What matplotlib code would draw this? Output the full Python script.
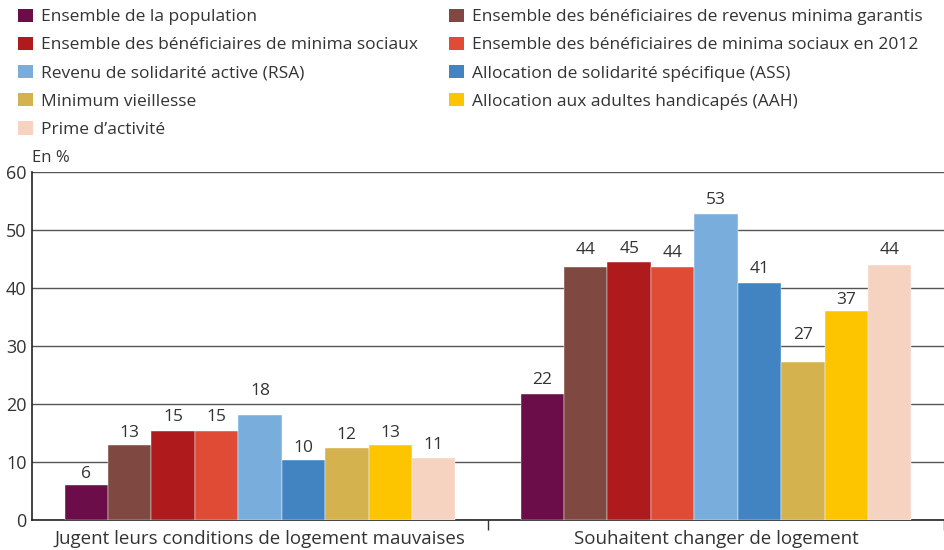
import matplotlib
matplotlib.use("Agg")
import matplotlib.pyplot as plt
from matplotlib.patches import Patch
import numpy as np

plt.rcParams['font.family'] = ['Open Sans', 'DejaVu Sans']

categories = ["Jugent leurs conditions de logement mauvaises", "Souhaitent changer de logement"]
series = [
    "Ensemble de la population",
    "Ensemble des bénéficiaires de revenus minima garantis",
    "Ensemble des bénéficiaires de minima sociaux",
    "Ensemble des bénéficiaires de minima sociaux en 2012",
    "Revenu de solidarité active (RSA)",
    "Allocation de solidarité spécifique (ASS)",
    "Minimum vieillesse",
    "Allocation aux adultes handicapés (AAH)",
    "Prime d\u2019activité",
]
colors = ["#6B0D48", "#7F4840", "#AF1B1C", "#E04B35", "#79AEDC",
          "#4283C2", "#D4B24D", "#FDC500", "#F6D2C0"]
# values per series: [group1, group2]
values = [
    [6.0, 21.8],
    [13.0, 43.6],
    [15.3, 44.5],
    [15.3, 43.6],
    [18.1, 52.8],
    [10.3, 40.8],
    [12.5, 27.3],
    [13.0, 36.1],
    [10.7, 44.0],
]
labels = [
    [6, 22],
    [13, 44],
    [15, 45],
    [15, 44],
    [18, 53],
    [10, 41],
    [12, 27],
    [13, 37],
    [11, 44],
]
yticks = [0, 10, 20, 30, 40, 50, 60]

# label offsets above bar tops (points), as placed in the original
label_offsets = [
    [8.0, 10.0],
    [8.5, 12.0],
    [10.0, 9.5],
    [10.0, 10.0],
    [17.5, 10.0],
    [9.0, 10.0],
    [9.0, 19.5],
    [8.5, 8.0],
    [9.0, 10.5],
]

fig = plt.figure(figsize=(9.45, 5.5), dpi=100)
ax = fig.add_axes([32/945, 30/550, 912/945, 348/550])

n = len(series)
group_w = 0.857
bw = group_w / n
x = np.arange(len(categories))
txt = "#333333"
for i in range(n):
    pos = x - group_w/2 + bw*(i + 0.5)
    ax.bar(pos, values[i], width=bw, color=colors[i], edgecolor='white',
           linewidth=0.3, zorder=3)
    for p, v, l, off in zip(pos, values[i], labels[i], label_offsets[i]):
        ax.annotate(str(l), xy=(p, v), xytext=(0, off), textcoords='offset points',
                    ha='center', va='center', fontsize=12.5, color=txt, zorder=4)

ax.set_xlim(-0.5, 1.5)
ax.set_ylim(0, 60)
ax.set_yticks(yticks)
ax.set_yticklabels([str(t) for t in yticks], fontsize=13, color=txt)
ax.yaxis.grid(True, color='#555555', linewidth=1.0, zorder=0)
ax.set_axisbelow(True)
ax.tick_params(axis='y', length=0, pad=4)
ax.set_xticks(x)
ax.set_xticklabels(categories, fontsize=13.5, color=txt)
ax.set_xticks([0.5, 1.5], minor=True)
ax.tick_params(axis='x', which='major', length=0, pad=7)
ax.tick_params(axis='x', which='minor', length=7, width=1, color='#333333')
for s in ['top', 'right']:
    ax.spines[s].set_visible(False)
ax.spines['left'].set_color('#222222')
ax.spines['bottom'].set_color('#222222')
ax.spines['left'].set_linewidth(1.2)
ax.spines['bottom'].set_linewidth(1.2)

fig.text(32/945, 1 - 158/550, "En %", fontsize=12, color=txt, ha='left', va='center')

handles = [Patch(facecolor=c, edgecolor='none') for c in colors]
order = [0, 2, 4, 6, 8, 1, 3, 5, 7]
leg = fig.legend([handles[i] for i in order], [series[i] for i in order],
                 ncol=2, loc='upper left', bbox_to_anchor=(18/945, 1 - 8.5/550),
                 frameon=False, fontsize=12.5, handlelength=0.85, handleheight=0.85,
                 handletextpad=0.5, columnspacing=1.75, labelspacing=0.64,
                 borderaxespad=0, borderpad=0)
for t in leg.get_texts():
    t.set_color(txt)

fig.savefig("out.png", dpi=100)
